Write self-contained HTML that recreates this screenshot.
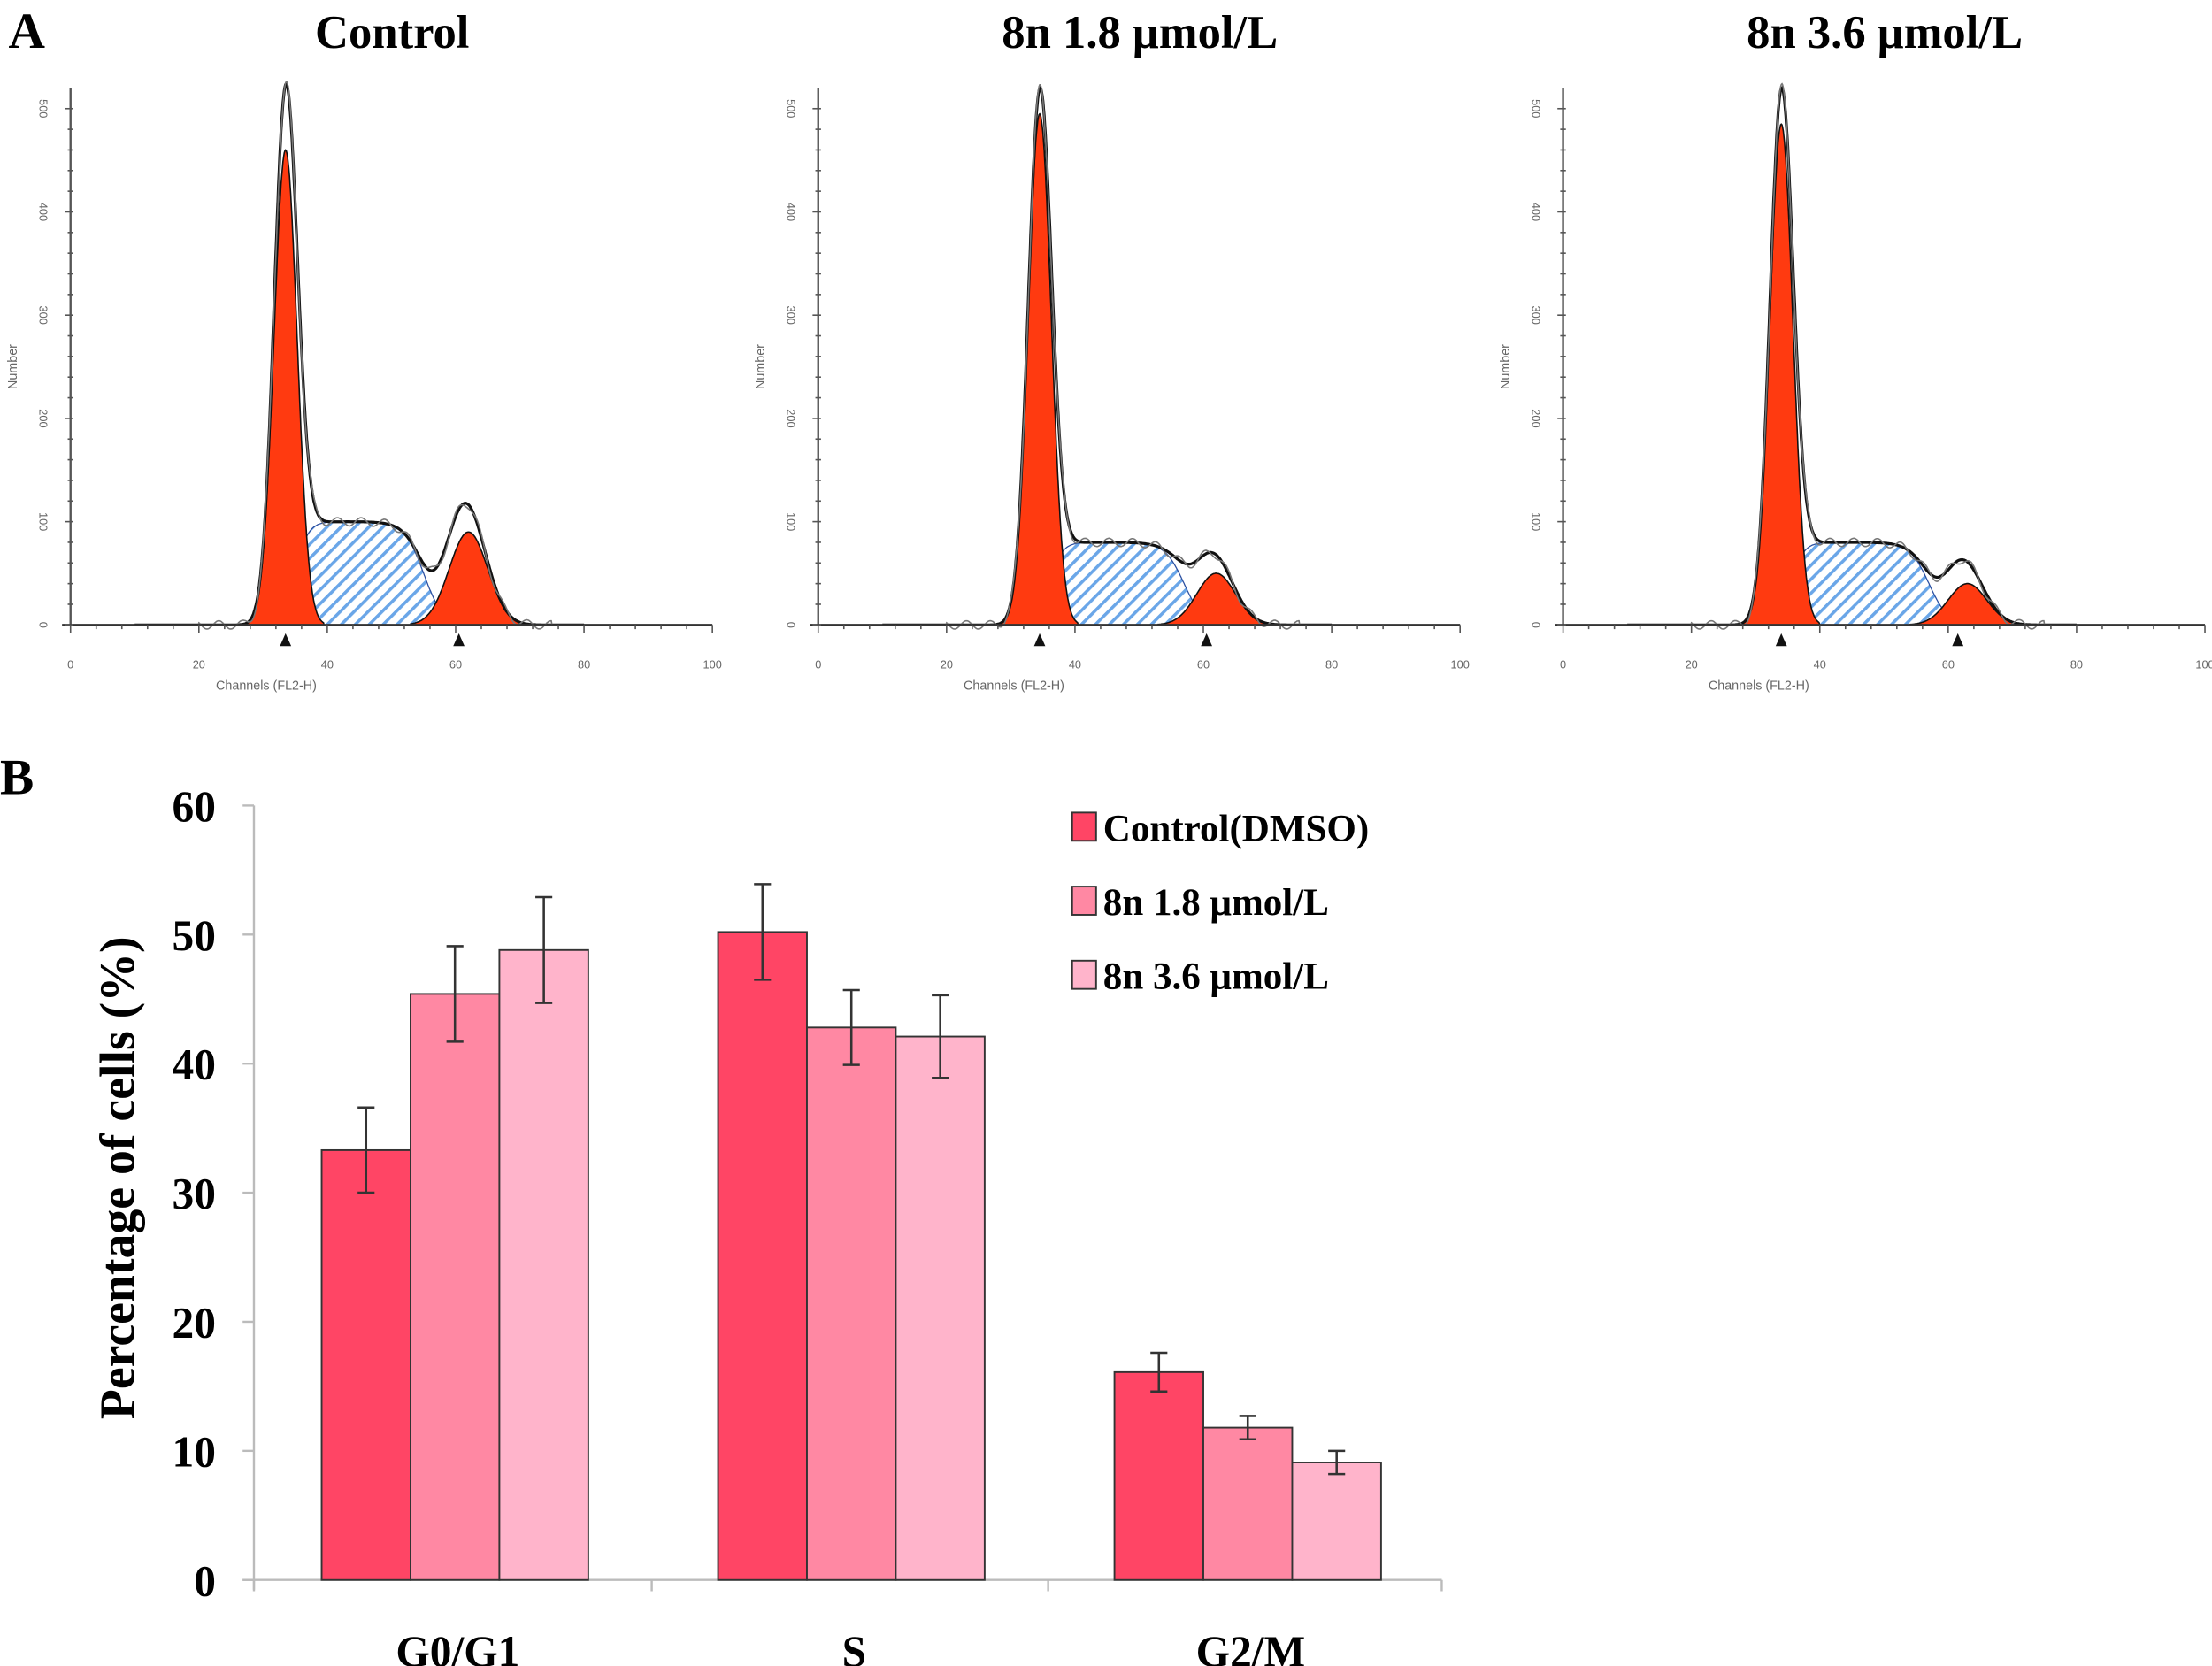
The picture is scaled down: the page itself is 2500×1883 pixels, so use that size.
<!DOCTYPE html>
<html><head><meta charset="utf-8"><style>
html,body{margin:0;padding:0;background:#fff}
svg{display:block}
</style></head><body>
<svg id="fig" width="2500" height="1883" viewBox="0 0 1568 1181" preserveAspectRatio="none" xmlns="http://www.w3.org/2000/svg">
<defs>
<pattern id="hatch" patternUnits="userSpaceOnUse" width="7" height="7" patternTransform="rotate(45)">
<rect width="7" height="7" fill="#fff"/><rect x="0" y="0" width="2.2" height="7" fill="#6aa6e8"/>
</pattern>
<pattern id="hatchR" patternUnits="userSpaceOnUse" width="7" height="7" patternTransform="rotate(45)">
<rect width="7" height="7" fill="#ff3a10"/><rect x="0" y="0" width="2" height="7" fill="#e8607a"/>
</pattern>
</defs>
<text x="6" y="34" font-family="Liberation Serif, serif" font-weight="bold" font-size="36">A</text>
<text x="0" y="563" font-family="Liberation Serif, serif" font-weight="bold" font-size="36">B</text>
<g id="hists"></g>
<g id="bars"></g>
</svg>
<script>
// ---- Histogram data (panel A) ----
const histTitles = ["Control", "8n 1.8 \u03bcmol/L", "8n 3.6 \u03bcmol/L"];
const histOrigins = [50, 580, 1108];
const g1Channel = [33.5, 34.5, 34];
const g1Height = [460, 495, 485];
const g1Peak = [505, 505, 505];
const sHeight = [100, 80, 80];
const sEnd = [55, 57, 57];
const g2Channel = [62, 62, 63];
const g2Height = [90, 50, 40];
const g2Raw = [160, 100, 95];
const histXTicks = [0, 20, 40, 60, 80, 100];
const histYTicks = [0, 100, 200, 300, 400, 500];

// ---- Bar chart data (panel B) ----
const categories = ["G0/G1", "S", "G2/M"];
const seriesNames = ["Control(DMSO)", "8n 1.8 \u03bcmol/L", "8n 3.6 \u03bcmol/L"];
const controlVals = [33.3, 50.2, 16.1];
const low18Vals = [45.4, 42.8, 11.8];
const high36Vals = [48.8, 42.1, 9.1];
const controlErr = [3.3, 3.7, 1.5];
const low18Err = [3.7, 2.9, 0.9];
const high36Err = [4.1, 3.2, 0.9];
const yTicks = [0, 10, 20, 30, 40, 50, 60];

const NS = "http://www.w3.org/2000/svg";
function mk(tag, attrs, parent, text) {
  const e = document.createElementNS(NS, tag);
  for (const k in attrs) e.setAttribute(k, attrs[k]);
  if (text !== undefined) e.textContent = text;
  parent.appendChild(e);
  return e;
}
const gauss = (x, m, s) => Math.exp(-0.5 * ((x - m) / s) ** 2);
const sig = (x) => 1 / (1 + Math.exp(-x));

// ---- Histograms ----
const H = document.getElementById('hists');
for (let p = 0; p < 3; p++) {
  const ox = histOrigins[p], y0 = 443, xs = 4.55, ys = 366 / 500;
  const X = c => ox + c * xs, Y = n => y0 - n * ys;
  const g = mk('g', {}, H);
  
  
  const t = mk('text', {x: ox + 228, y: 34, 'text-anchor': 'middle', 'font-family': 'Liberation Serif, serif', 'font-weight': 'bold', 'font-size': 33}, g, histTitles[p]);
  
  
  const sd1 = 1.8, sd2 = 3.0;
  const sF = c => sHeight[p] * sig((c - g1Channel[p] - 1.5) / 1.0) * sig((sEnd[p] - c) / 1.5);
  const g1F = c => g1Height[p] * gauss(c, g1Channel[p], sd1);
  const g2F = c => g2Height[p] * gauss(c, g2Channel[p], sd2);
  const rawBump = c => (g2Raw[p] - sHeight[p] * 0.4 - g2Height[p]) * gauss(c, g2Channel[p] - 1.5, 2.6);
  const pathOf = (f, a, b, closed) => {
    let d = '';
    for (let c = a; c <= b; c += 0.1) d += (d ? 'L' : 'M') + X(c).toFixed(1) + ',' + Y(f(c)).toFixed(1);
    if (closed) d += 'L' + X(b) + ',' + y0 + 'L' + X(a) + ',' + y0 + 'Z';
    return d;
  };
  let e = mk('path', {d: pathOf(sF, g1Channel[p] - 4, sEnd[p] + 10, true), fill: 'url(#hatch)', stroke: '#2b4fa0', 'stroke-width': 0.8}, g);
   
  e = mk('path', {d: pathOf(g1F, g1Channel[p] - 6, g1Channel[p] + 6, true), fill: '#ff3a10', stroke: '#111', 'stroke-width': 1}, g);
   
  e = mk('path', {d: pathOf(g2F, g2Channel[p] - 9, g2Channel[p] + 9, true), fill: '#ff3a10', stroke: '#111', 'stroke-width': 1}, g);
   
  const env = c => g1F(c) * (g1Peak[p] / g1Height[p]) + sF(c) + g2F(c) + rawBump(c);
  e = mk('path', {d: pathOf(env, 10, 80, false), fill: 'none', stroke: '#111', 'stroke-width': 2}, g);
   
  e = mk('path', {d: pathOf(c => env(c) + 4 * Math.sin(c * 1.7) * (c > 20 && c < 75 ? 1 : 0), 10, 80, false), fill: 'none', stroke: '#777', 'stroke-width': 1}, g);
   
  // axes
  e = mk('line', {x1: ox, y1: Y(520), x2: ox, y2: y0, stroke: '#555', 'stroke-width': 1.5}, g);
   
  e = mk('line', {x1: ox - 6, y1: y0, x2: X(100), y2: y0, stroke: '#333', 'stroke-width': 1.5}, g);
   
  for (let n = 0; n <= 500; n += 20) mk('line', {x1: ox - (n % 100 ? 2 : 4), y1: Y(n), x2: ox + 2, y2: Y(n), stroke: '#555'}, g);
  for (let c = 0; c <= 100; c += 4) mk('line', {x1: X(c), y1: y0, x2: X(c), y2: y0 + (c % 20 ? 3 : 6), stroke: '#555'}, g);
  histYTicks.forEach(v => {
    const tl = mk('text', {x: 0, y: 0, transform: `translate(${ox - 22},${Y(v)}) rotate(90)`, 'text-anchor': 'middle', 'font-family': 'Liberation Sans, sans-serif', 'font-size': 8, fill: '#666'}, g, v);
     
  });
  histXTicks.forEach(v => {
    const tl = mk('text', {x: X(v), y: y0 + 31, 'text-anchor': 'middle', 'font-family': 'Liberation Sans, sans-serif', 'font-size': 8, fill: '#666'}, g, v);
     
  });
  e = mk('text', {x: X(30.5), y: y0 + 46, 'text-anchor': 'middle', 'font-family': 'Liberation Sans, sans-serif', 'font-size': 9, fill: '#666'}, g, 'Channels (FL2-H)');
   
  e = mk('text', {x: 0, y: 0, transform: `translate(${ox - 38},${Y(250)}) rotate(-90)`, 'text-anchor': 'middle', 'font-family': 'Liberation Sans, sans-serif', 'font-size': 9, fill: '#666'}, g, 'Number');
   
  [g1Channel[p], g2Channel[p] - 1.5].forEach((c, i) => {
    const m = mk('path', {d: `M${X(c) - 4},${y0 + 15}L${X(c) + 4},${y0 + 15}L${X(c)},${y0 + 6}Z`, fill: '#111'}, g);
     
  });
}

// ---- Bar chart ----
const B = document.getElementById('bars');
const axX = 180, axY0 = 1120, axYTop = 571, axXEnd = 1022;
const yS = v => axY0 - v * (axY0 - axYTop) / 60;
const groupStart = [228, 509, 790], barW = 63;
const series = [controlVals, low18Vals, high36Vals];
const errs = [controlErr, low18Err, high36Err];
const colors = ['#ff4565', '#ff88a3', '#ffb4cb'];
let e = mk('line', {x1: axX, y1: axYTop, x2: axX, y2: axY0 + 7, stroke: '#bbb', 'stroke-width': 1.5}, B);
 
e = mk('line', {x1: axX - 8, y1: axY0, x2: axXEnd, y2: axY0, stroke: '#bbb', 'stroke-width': 1.5}, B);
 
[axX, 462, 743, axXEnd].forEach(x => mk('line', {x1: x, y1: axY0, x2: x, y2: axY0 + 8, stroke: '#bbb', 'stroke-width': 1.5}, B));
yTicks.forEach(v => {
  mk('line', {x1: axX - 8, y1: yS(v), x2: axX, y2: yS(v), stroke: '#bbb', 'stroke-width': 1.5}, B);
  const tl = mk('text', {x: axX - 27, y: yS(v) + 11, 'text-anchor': 'end', 'font-family': 'Liberation Serif, serif', 'font-weight': 'bold', 'font-size': 31}, B, v);
   
});
e = mk('text', {x: 0, y: 0, transform: 'translate(95,835) rotate(-90)', 'text-anchor': 'middle', 'font-family': 'Liberation Serif, serif', 'font-weight': 'bold', 'font-size': 35}, B, 'Percentage of cells (%)');
 
categories.forEach((c, i) => {
  const tl = mk('text', {x: groupStart[i] + 1.5 * barW + 2, y: 1181, 'text-anchor': 'middle', 'font-family': 'Liberation Serif, serif', 'font-weight': 'bold', 'font-size': 31}, B, c);
   
  series.forEach((s, k) => {
    const x = groupStart[i] + k * barW;
    const r = mk('rect', {x: x, y: yS(s[i]), width: barW, height: axY0 - yS(s[i]), fill: colors[k], stroke: '#333', 'stroke-width': 1.2}, B);
    
    
    const cx = x + barW / 2, hi = yS(s[i] + errs[k][i]), lo = yS(s[i] - errs[k][i]);
    const eb = mk('path', {d: `M${cx},${hi}L${cx},${lo}M${cx - 6},${hi}L${cx + 6},${hi}M${cx - 6},${lo}L${cx + 6},${lo}`, stroke: '#333', 'stroke-width': 1.6, fill: 'none'}, B);
     
  });
});
seriesNames.forEach((n, k) => {
  const y = 587 + k * 52.5;
  const sq = mk('rect', {x: 760, y: y - 11, width: 17, height: 20, fill: colors[k], stroke: '#333', 'stroke-width': 1.2}, B);
   
  const tl = mk('text', {x: 782, y: y + 9, 'font-family': 'Liberation Serif, serif', 'font-weight': 'bold', 'font-size': 27}, B, n);
   
});
</script>
</body></html>
